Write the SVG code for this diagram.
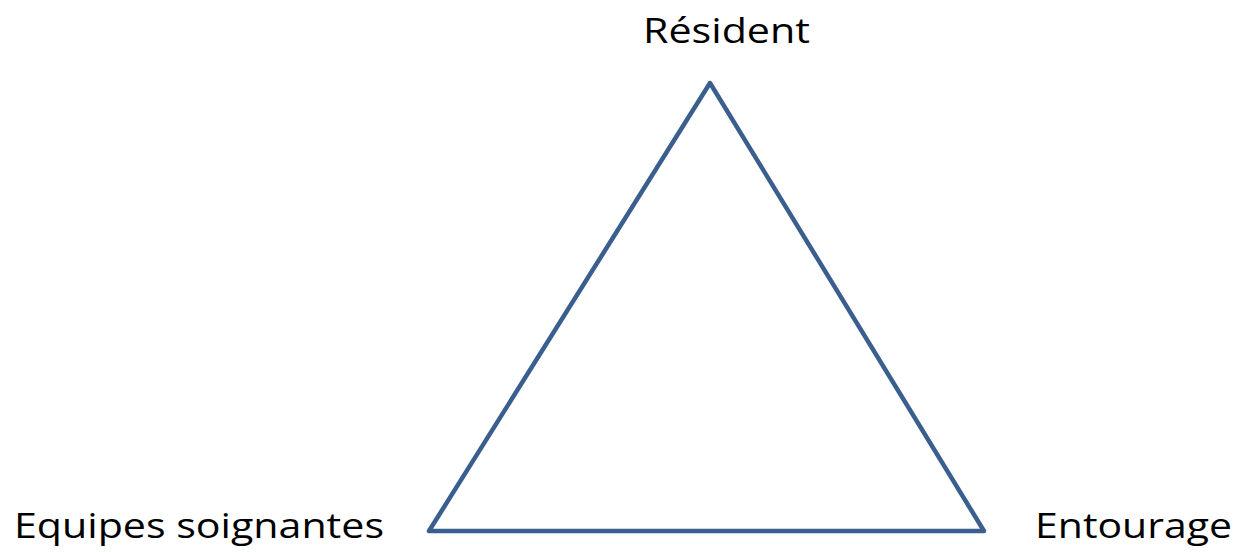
<svg xmlns="http://www.w3.org/2000/svg" width="1237" height="552" viewBox="0 0 1237 552">
<style>
.lbl{font-family:"Open Sans","Liberation Sans",sans-serif;font-size:35px;fill:#000}
.edge{fill:none;stroke:#3A5F8F;stroke-width:4.5;stroke-linejoin:round}
</style>
<rect width="1237" height="552" fill="#fff"/>
<g id="connectors">
<polygon class="edge" points="710,83 429,531 984,531"/>
</g>
<g id="node-resident"><text class="lbl" x="643" y="43" textLength="167" lengthAdjust="spacingAndGlyphs">Résident</text></g>
<g id="node-equipes"><text class="lbl" x="14" y="538" textLength="370" lengthAdjust="spacingAndGlyphs">Equipes soignantes</text></g>
<g id="node-entourage"><text class="lbl" x="1035" y="538" textLength="197" lengthAdjust="spacingAndGlyphs">Entourage</text></g>
</svg>
